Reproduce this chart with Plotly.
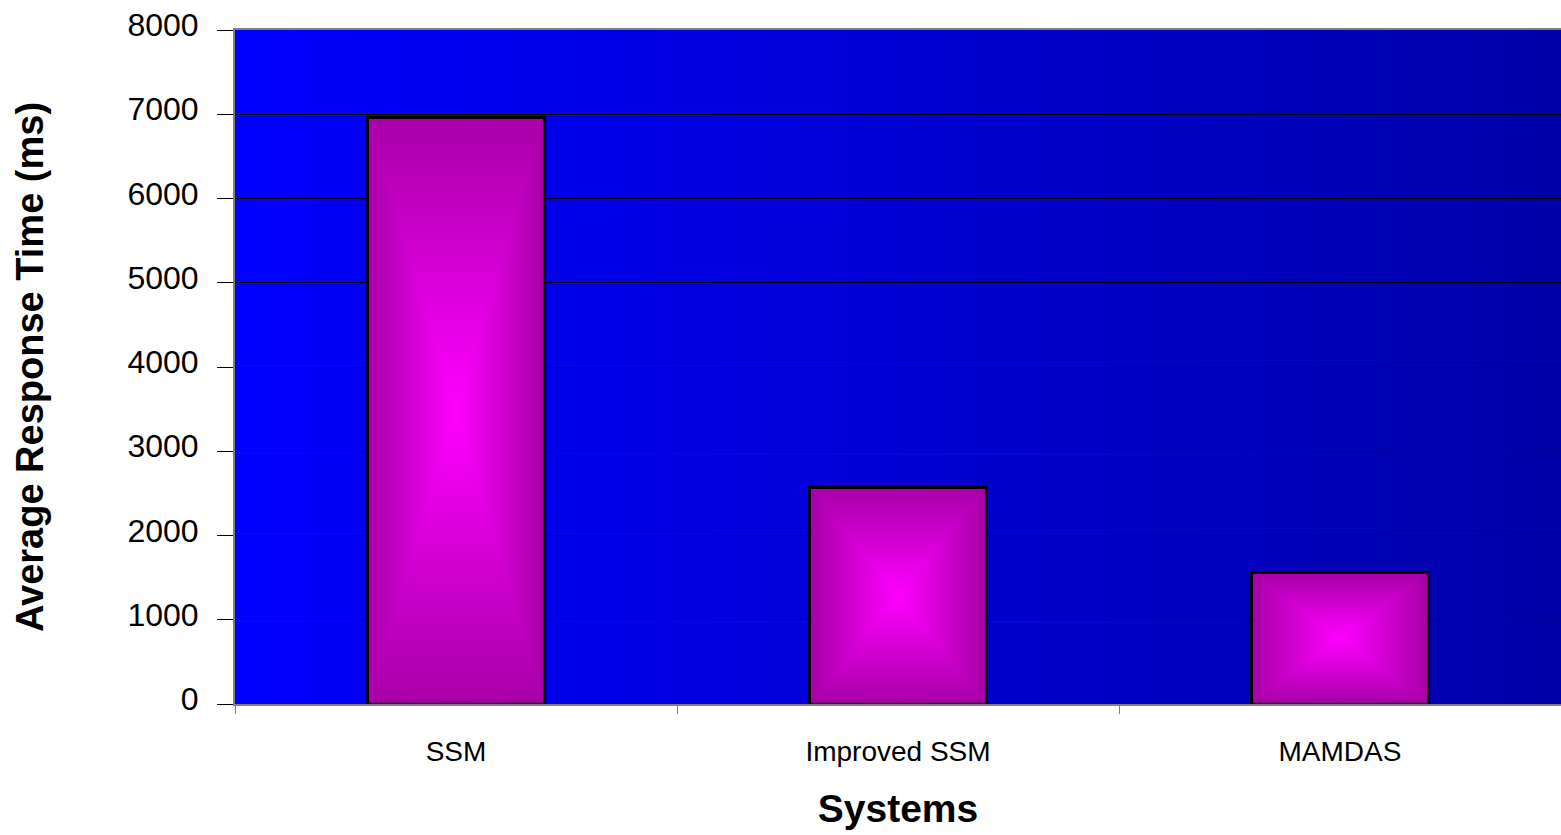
import base64
import plotly.graph_objects as go

# Average response time per system (ms)
systems = ["SSM", "Improved SSM", "MAMDAS"]
response_ms = [6960, 2570, 1560]

y_ticks = [0, 1000, 2000, 3000, 4000, 5000, 6000, 7000, 8000]

W, H = 1561, 835
M_L, M_R, M_T, M_B = 235, 0, 30, 131
Y_MAX = 8000
BAR_W = 0.4
OUTLINE = 3

EDGE = "#A800A8"
CORE = "#FF00FF"


def svg_uri(svg):
    return "data:image/svg+xml;base64," + base64.b64encode(svg.encode()).decode()


# horizontal blue wash behind the plot area
bg_svg = (
    '<svg xmlns="http://www.w3.org/2000/svg" width="200" height="100" '
    'viewBox="0 0 200 100" preserveAspectRatio="none">'
    '<defs><linearGradient id="g" x1="0" y1="0" x2="1" y2="0">'
    '<stop offset="0" stop-color="#0000FF"/>'
    '<stop offset="1" stop-color="#0000A8"/>'
    '</linearGradient></defs>'
    '<rect width="200" height="100" fill="url(#g)"/></svg>'
)

# rectangular "from centre" glow: a side-to-side gradient on the whole
# rectangle, with top and bottom wedges shaded top-to-bottom over it
bar_svg = (
    '<svg xmlns="http://www.w3.org/2000/svg" width="100" height="100" '
    'viewBox="0 0 100 100" preserveAspectRatio="none">'
    '<defs>'
    '<linearGradient id="h" gradientUnits="userSpaceOnUse" x1="0" y1="0" x2="100" y2="0">'
    f'<stop offset="0" stop-color="{EDGE}"/><stop offset="0.5" stop-color="{CORE}"/>'
    f'<stop offset="1" stop-color="{EDGE}"/></linearGradient>'
    '<linearGradient id="v" gradientUnits="userSpaceOnUse" x1="0" y1="0" x2="0" y2="100">'
    f'<stop offset="0" stop-color="{EDGE}"/><stop offset="0.5" stop-color="{CORE}"/>'
    f'<stop offset="1" stop-color="{EDGE}"/></linearGradient>'
    '</defs>'
    '<rect width="100" height="100" fill="url(#h)"/>'
    '<polygon points="0,0 100,0 50,50" fill="url(#v)"/>'
    '<polygon points="0,100 100,100 50,50" fill="url(#v)"/>'
    '</svg>'
)

plot_w = W - M_L - M_R
plot_h = H - M_T - M_B
# half the outline width, in data units, so the glow sits inside the border
dx = (OUTLINE / 2) * len(systems) / plot_w
dy = (OUTLINE / 2) * Y_MAX / plot_h

fig = go.Figure()
fig.add_trace(go.Bar(
    x=systems,
    y=response_ms,
    width=BAR_W,
    marker=dict(color="#AA00AA", line=dict(color="black", width=OUTLINE)),
    hoverinfo="x+y",
))

images = [dict(
    source=svg_uri(bg_svg), xref="paper", yref="paper",
    x=0, y=1, sizex=1, sizey=1, xanchor="left", yanchor="top",
    sizing="stretch", layer="below",
)]
for i, v in enumerate(response_ms):
    images.append(dict(
        source=svg_uri(bar_svg), xref="x", yref="y",
        x=i - BAR_W / 2 + dx, y=v - dy,
        sizex=BAR_W - 2 * dx, sizey=v - 2 * dy,
        xanchor="left", yanchor="top",
        sizing="stretch", layer="above",
    ))

fig.update_layout(
    width=W, height=H,
    margin=dict(l=M_L, r=M_R, t=M_T, b=M_B, pad=0),
    paper_bgcolor="white",
    plot_bgcolor="rgba(0,0,0,0)",
    showlegend=False,
    images=images,
    font=dict(family="Liberation Sans, Arial, sans-serif", color="black"),
)

fig.update_xaxes(
    type="category",
    range=[-0.5, len(systems) - 0.5],
    tickson="boundaries",
    ticks="outside", ticklen=8, tickcolor="#808080", tickwidth=1,
    tickfont=dict(size=28),
    ticklabelstandoff=21,
    showline=True, linecolor="#808080", linewidth=2, mirror=True,
    showgrid=False,
    title=dict(text="<b>Systems</b>", font=dict(size=39), standoff=29),
)

fig.update_yaxes(
    range=[0, Y_MAX],
    tickvals=y_ticks,
    ticktext=[str(t) for t in y_ticks],
    ticks="outside", ticklen=16, tickcolor="black", tickwidth=1,
    tickfont=dict(size=32),
    ticklabelstandoff=12,
    ticklabelshift=-5,
    showline=True, linecolor="#808080", linewidth=2, mirror=False,
    showgrid=True, gridcolor="black", gridwidth=1,
    zeroline=False,
    title=dict(text="<b>Average Response Time (ms)</b>", font=dict(size=38), standoff=72),
)

fig.write_html("out.html")
